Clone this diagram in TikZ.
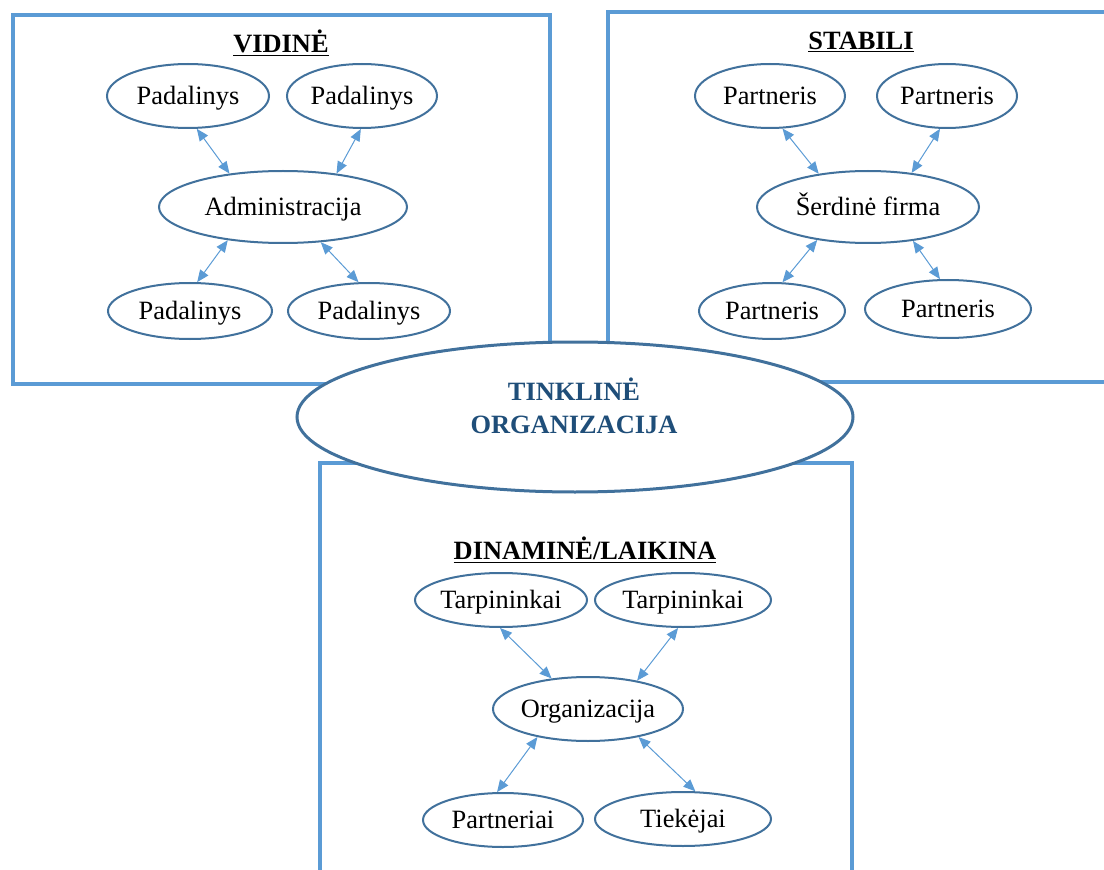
\documentclass[tikz,border=0pt]{standalone}
\usepackage{fontspec}
\setmainfont{Liberation Serif}
\usetikzlibrary{shapes.geometric,arrows.meta}

\definecolor{langomelyna}{RGB}{91,155,213}
\definecolor{ovalomelyna}{RGB}{65,113,156}
\definecolor{tamsimelyna}{RGB}{31,78,121}

\tikzset{every picture/.style={line width=0.75pt}}
\tikzset{
  langas/.style={draw=langomelyna, line width=3.2pt},
  mazgas/.style 2 args={ellipse, draw=ovalomelyna, fill=white, line width=1.5pt, inner sep=0pt,
    minimum width=#1, minimum height=#2, text height=13pt, text depth=0pt,
    font=\fontsize{19.8}{23}\selectfont},
  pavadinimas/.style={inner sep=0.75pt, font=\fontsize{19.8}{23}\selectfont\bfseries},
  rysys/.style={<->, >={Triangle[length=9pt,width=7.5pt]}, color=langomelyna, line width=0.75pt},
  centras/.style={ellipse, draw=ovalomelyna, fill=white, line width=2.25pt, inner sep=0pt,
    minimum width=417pt, minimum height=112.5pt}
}

\begin{document}
\begin{tikzpicture}[x=0.75pt,y=0.75pt,yscale=-1,xscale=1]
\useasboundingbox (0,0) rectangle (1104,870);
\clip (0,0) rectangle (1104,870);

%Shape: Rectangle [VIDINE]
\draw [langas] (13,15) rectangle (550,384) ;
%Shape: Rectangle [STABILI]
\draw [langas] (608,12) rectangle (1115,382) ;
%Shape: Rectangle [DINAMINE]
\draw [langas] (320,463) rectangle (852,885) ;

% Vidine
\node [pavadinimas] (vidtitle) at (281,43) {\underline{VIDINĖ}};
\node [mazgas={121.5pt}{48pt}] (padTL) at (188,96) {Padalinys};
\node [mazgas={112.5pt}{48pt}] (padTR) at (362,96) {Padalinys};
\node [mazgas={186pt}{54pt}] (admin) at (283,207) {Administracija};
\node [mazgas={123pt}{42pt}] (padBL) at (190,311) {Padalinys};
\node [mazgas={121.5pt}{42pt}] (padBR) at (369,311) {Padalinys};
\draw [rysys] (padTL.-75) -- (admin.148) ;
\draw [rysys] (padTR.-92) -- (admin.32) ;
\draw [rysys] (admin.-149) -- (padBL.76) ;
\draw [rysys] (admin.-43) -- (padBR.110) ;

% Stabili
\node [pavadinimas] (stabtitle) at (861,42) {\underline{STABILI}};
\node [mazgas={112.5pt}{48pt}] (parTL) at (770,96) {Partneris};
\node [mazgas={105pt}{48pt}] (parTR) at (947,96) {Partneris};
\node [mazgas={166.5pt}{54pt}] (serd) at (868,207) {Šerdinė firma};
\node [mazgas={109.5pt}{42pt}] (parBL) at (772,311) {Partneris};
\node [mazgas={124.5pt}{43.5pt}] (parBR) at (948,309) {Partneris};
\draw [rysys] (parTL.-69) -- (serd.146) ;
\draw [rysys] (parTR.-102) -- (serd.38) ;
\draw [rysys] (serd.-147) -- (parBL.70) ;
\draw [rysys] (serd.-37) -- (parBR.105) ;

% Dinamine/laikina
\node [pavadinimas] (dintitle) at (585,550) {\underline{DINAMINĖ/LAIKINA}};
\node [mazgas={129pt}{40.5pt}] (tarpL) at (501,600) {Tarpininkai};
\node [mazgas={132pt}{40.5pt}] (tarpR) at (683,600) {Tarpininkai};
\node [mazgas={139.5pt}{48pt}] (org) at (588,709) {Organizacija};
\node [mazgas={120pt}{40.5pt}] (partn) at (503,820) {Partneriai};
\node [mazgas={132pt}{40.5pt}] (tiek) at (683,819) {Tiekėjai};
\draw [rysys] (tarpL.-92) -- (org.140) ;
\draw [rysys] (tarpR.-100) -- (org.30) ;
\draw [rysys] (org.-151) -- (partn.102) ;
\draw [rysys] (org.-29) -- (tiek.66) ;

%Shape: Ellipse [centras]
\node [centras] (tinklas) at (575,417) {};
% Text Node
\node [pavadinimas, text=tamsimelyna, align=center, font=\fontsize{19.8}{25}\selectfont\bfseries] (tinklastekstas) at (574,406) {TINKLINĖ\\ORGANIZACIJA};

\end{tikzpicture}
\end{document}
